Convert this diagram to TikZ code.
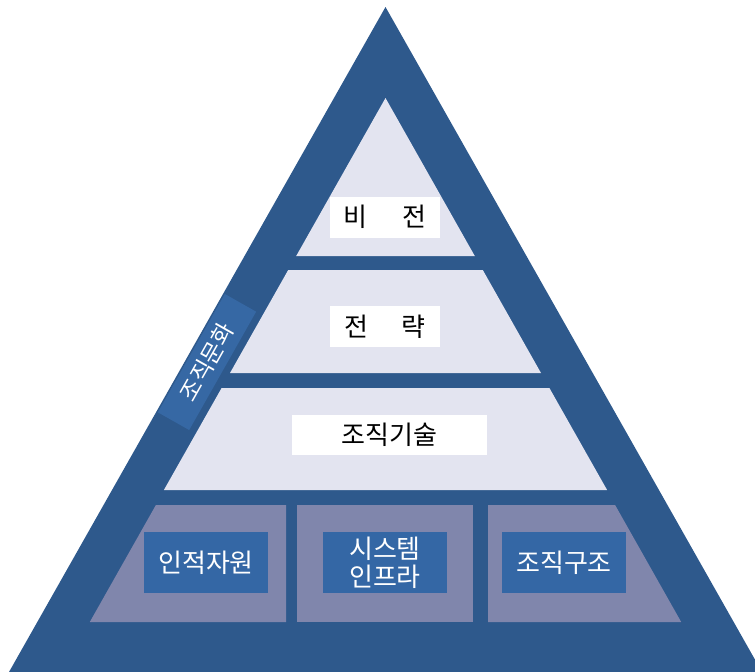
\documentclass[tikz,border=0pt]{standalone}
\usepackage{fontspec}
\setmainfont{Noto Sans CJK KR}
\definecolor{darkblue}{RGB}{46,89,140}
\definecolor{lightfill}{RGB}{227,228,240}
\definecolor{grayfill}{RGB}{128,134,172}
\definecolor{labelblue}{RGB}{52,103,165}
\definecolor{culturebox}{RGB}{54,104,164}
\begin{document}
\begin{tikzpicture}[x=1pt,y=-1pt,
  level/.style={fill=lightfill,draw=none},
  basebox/.style={fill=grayfill,draw=none},
  whitebox/.style={fill=white,draw=none,inner sep=0pt,font=\fontsize{26}{30}\selectfont,text=black},
  bluebox/.style={fill=labelblue,draw=none,inner sep=0pt,minimum width=124,minimum height=61,font=\fontsize{26}{28}\selectfont,text=white,align=center},
  culture/.style={fill=culturebox,draw=none,inner sep=0pt,minimum width=136,minimum height=36,font=\fontsize{23}{24}\selectfont,text=white,rotate=60.5}]
\useasboundingbox (0,0) rectangle (755,672);
\clip (0,0) rectangle (755,672);
% outer triangle
\fill[darkblue] (385.5,7) -- (9,672) -- (762,672) -- cycle;
% vision
\fill[level] (385.5,98) -- (474.8,256) -- (296.2,256) -- cycle;
% strategy
\fill[level] (288.2,270) -- (482.8,270) -- (541,373) -- (230,373) -- cycle;
% technology
\fill[level] (221.6,388) -- (549.4,388) -- (607.1,490) -- (163.9,490) -- cycle;
% bottom boxes
\fill[basebox] (155.9,505) -- (286,505) -- (286,622) -- (89.8,622) -- cycle;
\fill[basebox] (297,505) rectangle (473,622);
\fill[basebox] (488,505) -- (615.1,505) -- (681.2,622) -- (488,622) -- cycle;
% white text boxes
\node[whitebox,minimum width=110,minimum height=41] (vision) at (385,217) {비\hspace{36pt}전};
\node[whitebox,minimum width=110,minimum height=41] (strategy) at (385,326.5) {전\hspace{34pt}략};
\node[whitebox,minimum width=195,minimum height=40] (tech) at (389.5,435) {조직기술};
% blue label boxes
\node[bluebox] (human) at (206,562.5) {인적자원};
\node[bluebox] (infra) at (385,562.5) {시스템\\인프라};
\node[bluebox] (struct) at (564,562.5) {조직구조};
% culture label
\node[culture] (culture) at (207,362) {조직문화};
\end{tikzpicture}
\end{document}
